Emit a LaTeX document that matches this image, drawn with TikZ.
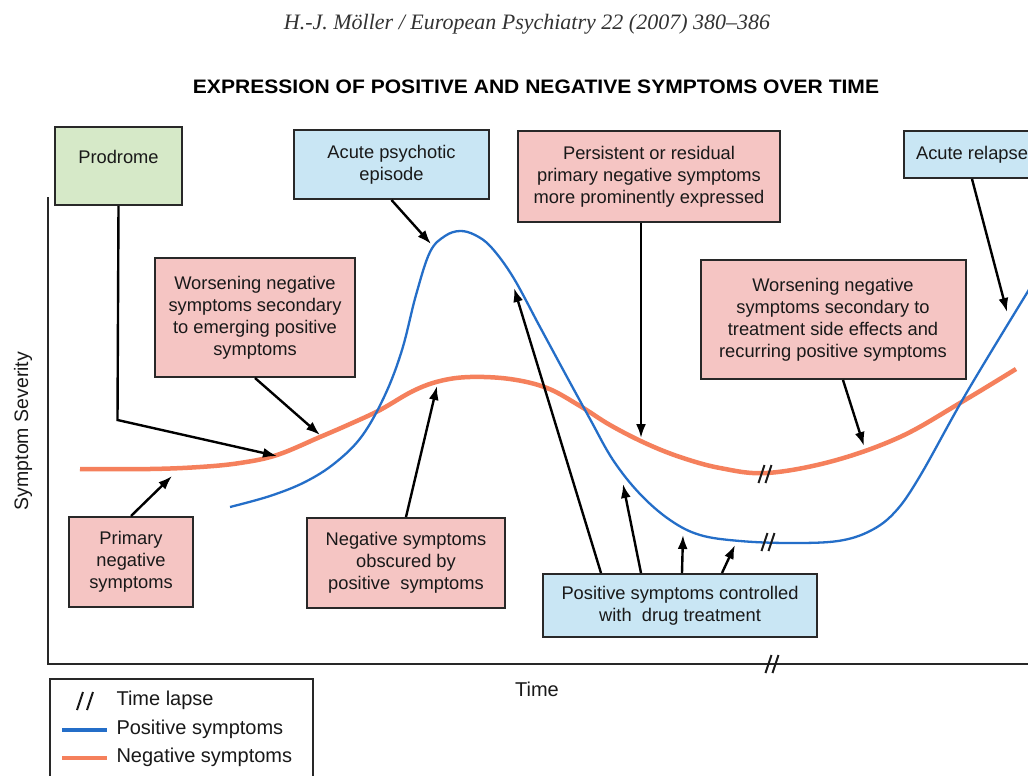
\documentclass[tikz,border=0pt]{standalone}
\usepackage{fontspec}
\setmainfont{Liberation Sans}
\newfontfamily\hdrfont{Liberation Serif}
\usetikzlibrary{arrows.meta,calc}
\definecolor{boxpink}{RGB}{245,197,195}
\definecolor{boxblue}{RGB}{201,230,244}
\definecolor{boxgreen}{RGB}{214,233,200}
\definecolor{poscol}{RGB}{36,110,200}
\definecolor{negcol}{RGB}{245,128,92}
\definecolor{edgecol}{RGB}{40,40,40}
\begin{document}
\begin{tikzpicture}[x=1pt,y=-1pt,
  box/.style={draw=edgecol,line width=2pt,align=center,inner sep=0pt,text=black!90,font=\fontsize{18.3}{22}\selectfont},
  pinkbox/.style={box,fill=boxpink},
  bluebox/.style={box,fill=boxblue},
  greenbox/.style={box,fill=boxgreen},
  ptr/.style={draw=black,line width=2.4pt,-{Latex[length=14pt,width=10pt]}},
  poscurve/.style={draw=poscol,line width=2.3pt},
  negcurve/.style={draw=negcol,line width=4.5pt},
  lapse/.pic={\draw[line width=2pt,black!90] (-6.5,9)--(-0.5,-9) (0.5,9)--(6.5,-9);},
  lbl/.style={text=black!90,font=\fontsize{20}{24}\selectfont}]
\useasboundingbox (0,0) rectangle (1028,776);
\clip (0,0) rectangle (1028,776);
\fill[white] (0,0) rectangle (1028,776);

% header and title
\node[text=black!80,font=\hdrfont\itshape\fontsize{22}{25}\selectfont] (hdr) at (527,24) {H.-J. Möller / European Psychiatry 22 (2007) 380–386};
\node[text=black,font=\bfseries\fontsize{19.5}{22}\selectfont] (title) at (536,87) {\scalebox{1.08}[1]{EXPRESSION OF POSITIVE AND NEGATIVE SYMPTOMS OVER TIME}};

% axes
\coordinate (ytop) at (48,197);
\coordinate (orig) at (48,664);
\coordinate (xend) at (1032,664);
\draw[edgecol,line width=2.2pt] (ytop) -- (orig) -- (xend);
\node[lbl,rotate=90,font=\fontsize{19.5}{22}\selectfont] (ylab) at (23,431) {Symptom Severity};
\node[lbl] (xlab) at (537,689) {Time};

% curves
\draw[negcurve] plot[smooth,tension=0.6] coordinates {(80,469) (150,469) (200,467) (240,463) (277,455) (320,437) (350,424) (380,410) (413,391) (440,381) (470,377) (510,379) (547,388) (580,406) (610,425) (645,443) (680,457) (720,468) (767,473) (833,461) (900,437) (960,403) (1016,369)};
\draw[poscurve] plot[smooth,tension=0.6] coordinates {(230,507) (270,496) (305,482) (335,463) (362,436) (385,395) (402,350) (416,295) (430,252) (445,236) (460,231) (475,235) (491,247) (513,277) (540,327) (567,377) (590,419) (613,460) (640,494) (670,520) (700,535) (740,541) (790,543) (838,541) (870,531) (895,512) (920,476) (967,392) (1030,288)};

% time-lapse marks
\pic at (765,474) {lapse};
\pic at (768,542) {lapse};
\pic at (772,664) {lapse};

% boxes
\node[greenbox,minimum width=127,minimum height=78,text height=10pt,text depth=14.8pt] (prod) at (118.5,166) {Prodrome};
\node[bluebox,minimum width=195,minimum height=69] (acute) at (391.5,164.5) {Acute psychotic\\episode};
\node[pinkbox,minimum width=262,minimum height=91] (persist) at (649,176.5) {Persistent or residual\\primary negative symptoms\\more prominently expressed};
\node[bluebox,minimum width=136,minimum height=47] (relapse) at (972,154.5) {Acute relapse};
\node[pinkbox,minimum width=200,minimum height=119] (worsA) at (255,317.5) {Worsening negative\\symptoms secondary\\to emerging positive\\symptoms};
\node[pinkbox,minimum width=265,minimum height=119] (worsB) at (833,319.5) {Worsening negative\\symptoms secondary to\\treatment side effects and\\recurring positive symptoms};
\node[pinkbox,minimum width=124,minimum height=90] (prim) at (131,562) {Primary\\negative\\symptoms};
\node[pinkbox,minimum width=198,minimum height=90] (obsc) at (406,563) {Negative symptoms\\obscured by\\positive\ \ symptoms};
\node[bluebox,minimum width=274,minimum height=63] (ctrl) at (680,605.5) {Positive symptoms controlled\\with\ \ drug treatment};

% arrow targets
\coordinate (bProd) at (117.5,420);
\coordinate (tProd) at (277,456);
\coordinate (tAcute) at (431,244);
\coordinate (tPersist) at (641,438);
\coordinate (tRelapse) at (1007,312);
\coordinate (tWA) at (320,435);
\coordinate (tWB) at (864,446);
\coordinate (tPrim) at (172,476);
\coordinate (tObsc) at (437,386);
\coordinate (tC1) at (514,288);
\coordinate (tC2) at (623,484);
\coordinate (tC3) at (683,535);
\coordinate (tC4) at (735,545);

% connectors
\draw[ptr] (prod.south) -- (bProd) -- (tProd);
\draw[ptr] (acute.south) -- (tAcute);
\draw[ptr] (persist.south -| tPersist) -- (tPersist);
\draw[ptr] (relapse.south) -- (tRelapse);
\draw[ptr] (worsA.south) -- (tWA);
\draw[ptr] ($(worsB.south)+(10,0)$) -- (tWB);
\draw[ptr] (prim.north) -- (tPrim);
\draw[ptr] (obsc.north) -- (tObsc);
\draw[ptr] ($(ctrl.north west)+(59,0)$) -- (tC1);
\draw[ptr] ($(ctrl.north west)+(99,0)$) -- (tC2);
\draw[ptr] ($(ctrl.north west)+(140,0)$) -- (tC3);
\draw[ptr] ($(ctrl.north west)+(180,0)$) -- (tC4);

% legend
\node[draw=edgecol,line width=2pt,minimum width=263,minimum height=111,inner sep=0pt] (legend) at (181.5,734.5) {};
\draw[line width=2pt,black!90] (77,710)--(83,692) (87,710)--(93,692);
\node[lbl,anchor=west] (lgA) at (113,700) {Time lapse};
\coordinate (lbA) at (62,730);
\coordinate (lbB) at (107,730);
\draw[poscol,line width=3.5pt] (lbA) -- (lbB);
\node[lbl,anchor=west] (lgB) at (113,729) {Positive symptoms};
\coordinate (loA) at (62,758);
\coordinate (loB) at (107,758);
\draw[negcol,line width=4pt] (loA) -- (loB);
\node[lbl,anchor=west] (lgC) at (113,757) {Negative symptoms};
\end{tikzpicture}
\end{document}
